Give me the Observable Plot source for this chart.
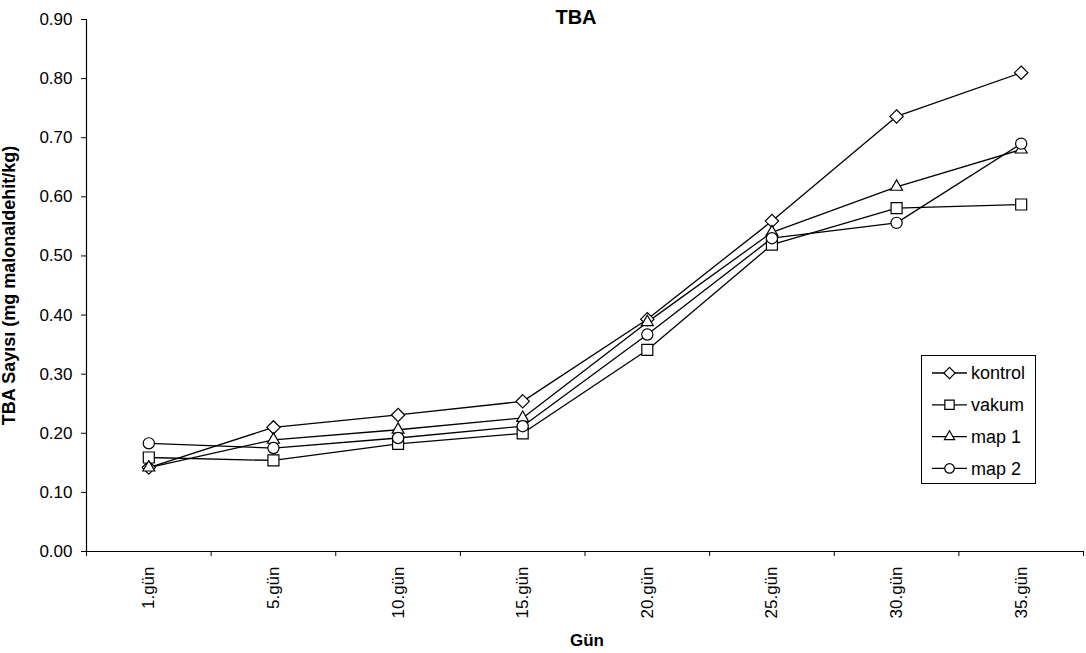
<!DOCTYPE html>
<html>
<head>
<meta charset="utf-8">
<script src="https://cdn.jsdelivr.net/npm/d3@7"></script>
<script src="https://cdn.jsdelivr.net/npm/@observablehq/plot@0.6"></script>
<style>
  html, body { margin: 0; padding: 0; background: white; }
  #wrap { position: relative; width: 1086px; height: 653px; }
  #legend { position: absolute; left: 0; top: 0; pointer-events: none; }
</style>
</head>
<body>
<div id="wrap"></div>
<script>
// ---- data ----
const categories = ["1.gün", "5.gün", "10.gün", "15.gün", "20.gün", "25.gün", "30.gün", "35.gün"];
const kontrol = [0.142, 0.210, 0.231, 0.254, 0.393, 0.559, 0.736, 0.810];
const vakum   = [0.159, 0.154, 0.182, 0.200, 0.341, 0.519, 0.581, 0.587];
const map1    = [0.142, 0.189, 0.206, 0.226, 0.388, 0.540, 0.617, 0.680];
const map2    = [0.183, 0.175, 0.192, 0.212, 0.367, 0.530, 0.556, 0.690];
const seriesNames = ["kontrol", "vakum", "map 1", "map 2"];
const seriesValues = [kontrol, vakum, map1, map2];
const seriesSymbols = ["diamond2", "square2", "triangle2", "circle"];
const seriesR = [6, 7, 5.7, 5.6];
const yTicks = [0, 0.1, 0.2, 0.3, 0.4, 0.5, 0.6, 0.7, 0.8, 0.9];
const chartTitle = "TBA";
const xTitle = "Gün";
const yTitle = "TBA Sayısı (mg malonaldehit/kg)";

const FONT = "'Liberation Sans', Arial, sans-serif";

const seriesMarks = [];
seriesValues.forEach((vals, s) => {
  const data = vals.map((v, i) => ({x: i + 0.5, y: v}));
  seriesMarks.push(Plot.line(data, {x: "x", y: "y", stroke: "black", strokeWidth: 1.3}));
});
seriesValues.forEach((vals, s) => {
  const data = vals.map((v, i) => ({x: i + 0.5, y: v}));
  seriesMarks.push(Plot.dot(data, {x: "x", y: "y", symbol: () => seriesSymbols[s], r: seriesR[s],
    fill: "white", stroke: "black", strokeWidth: 1.2}));
});

const chart = Plot.plot({
  width: 1086,
  height: 653,
  marginLeft: 86,
  marginRight: 3,
  marginTop: 19,
  marginBottom: 102,
  style: {fontFamily: FONT, fontSize: "17px", color: "black", background: "white", overflow: "visible"},
  x: {type: "linear", domain: [0, categories.length]},
  y: {domain: [0, 0.9]},
  symbol: {type: "identity"},
  marks: [
    Plot.axisY({ticks: yTicks, tickFormat: d3.format(".2f"), tickSize: 5, tickPadding: 9, label: null, fontSize: 17}),
    Plot.axisX({ticks: d3.range(0, categories.length + 1), tickSize: 5, tickFormat: () => "", label: null}),
    Plot.axisX({ticks: categories.map((c, i) => i + 0.5), tickSize: 0, tickPadding: 15,
      tickFormat: (d) => categories[Math.floor(d)], tickRotate: -90, textAnchor: "end", label: null, fontSize: 17}),
    Plot.ruleX([0], {stroke: "black", strokeWidth: 1.2}),
    Plot.ruleY([0], {stroke: "black", strokeWidth: 1.2}),
    ...seriesMarks,
    Plot.text([chartTitle], {frameAnchor: "top", textAnchor: "middle", lineAnchor: "middle", dx: -9, dy: -2, fontWeight: "bold", fontSize: 20}),
    Plot.text([xTitle], {frameAnchor: "bottom", textAnchor: "middle", lineAnchor: "middle", dx: 2, dy: 89, fontWeight: "bold", fontSize: 17}),
    Plot.text([yTitle], {frameAnchor: "left", textAnchor: "middle", lineAnchor: "middle", rotate: -90, dx: -77, fontWeight: "bold", fontSize: 18})
  ]
});
document.getElementById("wrap").appendChild(chart);

// ---- legend ----
const lg = d3.select("#wrap").append("svg").attr("id", "legend")
  .attr("width", 1086).attr("height", 653)
  .style("font-family", FONT);
lg.append("rect").attr("x", 921.5).attr("y", 355.5).attr("width", 114).attr("height", 128)
  .attr("fill", "white").attr("stroke", "black").attr("stroke-width", 1);
const symMap = {diamond2: d3.symbolDiamond2, square2: d3.symbolSquare2, triangle2: d3.symbolTriangle2, circle: d3.symbolCircle};
seriesNames.forEach((name, s) => {
  const cy = 373 + s * 31.8;
  const g = lg.append("g");
  g.append("line").attr("x1", 932).attr("x2", 967).attr("y1", cy).attr("y2", cy)
    .attr("stroke", "black").attr("stroke-width", 1.3);
  g.append("path").attr("transform", `translate(949.5,${cy})`)
    .attr("d", d3.symbol(symMap[seriesSymbols[s]], Math.PI * seriesR[s] * seriesR[s] * 0.72)())
    .attr("fill", "white").attr("stroke", "black").attr("stroke-width", 1.2);
  g.append("text").attr("x", 971).attr("y", cy).attr("dy", "0.35em")
    .attr("font-size", 18).text(name);
});
</script>
</body>
</html>
